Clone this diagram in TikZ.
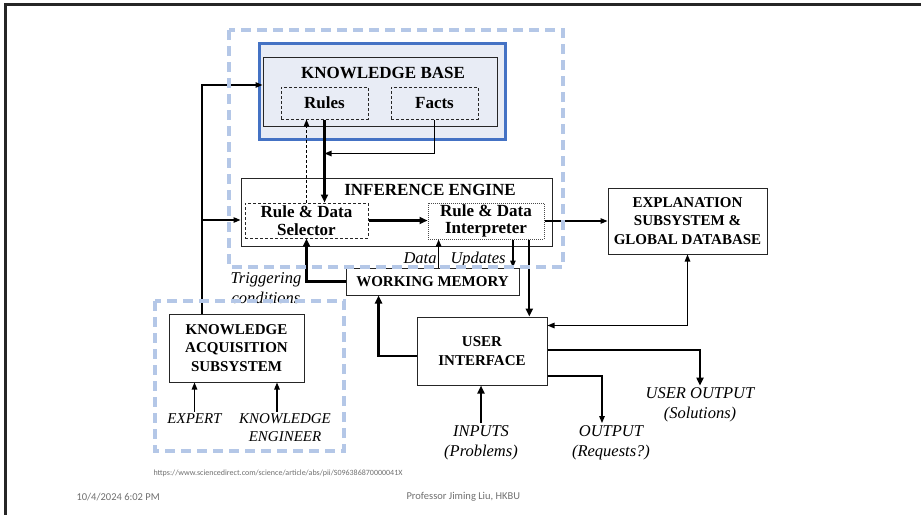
\documentclass[tikz,border=0pt]{standalone}
\usepackage{fontspec}
\setmainfont{Liberation Serif}
\newfontfamily\footfont{Carlito}
\usetikzlibrary{calc,arrows.meta}
\definecolor{dashblue}{HTML}{B4C7E7}
\definecolor{kbblue}{HTML}{4472C4}
\definecolor{kbfill}{HTML}{E8ECF5}
\definecolor{footgray}{HTML}{6F6F6F}

\begin{document}
\begin{tikzpicture}[x=1pt,y=-1pt,
  box/.style={draw=black!85,line width=1pt,inner sep=0pt},
  dbox/.style={box,dash pattern=on 3pt off 2pt},
  pbox/.style={box,draw=black!70,dash pattern=on 1pt off 1pt},
  big/.style={font=\fontsize{17}{17.5}\selectfont\bfseries,align=center},
  small/.style={font=\fontsize{15}{18.5}\selectfont\bfseries,align=center},
  lab/.style={font=\fontsize{16.5}{20}\selectfont\itshape,align=center,inner sep=2pt},
  slab/.style={lab,font=\fontsize{15}{18}\selectfont\itshape},
  arr/.style={line width=1.2pt,-{Triangle[length=7pt,width=5.5pt]}},
  darr/.style={line width=1.2pt,{Triangle[length=7pt,width=5.5pt]}-{Triangle[length=7pt,width=5.5pt]}},
  tarr/.style={line width=2.2pt,-{Triangle[length=8pt,width=7pt]}},
  region/.style={draw=dashblue,line width=3.5pt,dash pattern=on 10pt off 6pt}]
\useasboundingbox (0,0) rectangle (921,515);
% slide frame
\fill[black!85] (4.3,3) rectangle (921,5.8);
\fill[black!85] (4.3,3) rectangle (6.8,515);

% knowledge base
\node[draw=kbblue,fill=kbfill,line width=3.5pt,minimum width=246pt,minimum height=96pt] (kbhi) at (382.5,91.5) {};
\node[box,minimum width=234pt,minimum height=69pt] (kb) at (380,91.5) {};
\node[big] (kbtitle) at (383,73) {KNOWLEDGE BASE};
\node[dbox,big,minimum width=87pt,minimum height=32pt] (rules) at (324.5,103) {Rules};
\node[dbox,big,minimum width=87pt,minimum height=32pt] (facts) at (434.5,103) {Facts};

% inference engine
\node[box,minimum width=311pt,minimum height=68pt] (ie) at (396.5,212) {};
\node[big] (ietitle) at (430,190) {INFERENCE ENGINE};
\node[dbox,big,minimum width=123pt,minimum height=35pt] (sel) at (306.5,220.5) {Rule \& Data\\Selector};
\node[pbox,big,minimum width=116pt,minimum height=36pt] (int) at (486,221) {Rule \& Data\\Interpreter};

\node[box,small,minimum width=159pt,minimum height=66pt] (exp) at (687.5,221) {EXPLANATION\\SUBSYSTEM \&\\GLOBAL DATABASE};
\node[box,small,minimum width=173pt,minimum height=27pt] (wm) at (432.5,281.5) {WORKING MEMORY};
\node[box,small,minimum width=130pt,minimum height=68pt] (ui) at (482,351) {USER\\INTERFACE};
\node[box,small,minimum width=135pt,minimum height=68pt] (kas) at (236.5,348) {KNOWLEDGE\\ACQUISITION\\SUBSYSTEM};

\node[lab] (trig) at (266,288) {Triggering\\conditions};
\node[lab,anchor=base] (data) at (420,263) {Data};
\node[lab,anchor=base] (upd) at (478,263) {Updates};
\node[lab] (uout) at (700,405) {USER OUTPUT\\(Solutions)};
\node[lab] (outp) at (611,442.5) {OUTPUT\\(Requests?)};
\node[lab] (inp) at (481,442.5) {INPUTS\\(Problems)};
\node[slab] (expert) at (194.5,419) {EXPERT};
\node[slab] (keng) at (285,428) {KNOWLEDGE\\ENGINEER};

\coordinate (feed) at (202,220);
\draw[arr] (kas.north -| feed) |- ([yshift=6.5pt]kb.west);
\draw[arr] (feed) -- (feed -| ie.west);

\draw[tarr] (rules.south) -- (rules.south |- sel.north);
\draw[arr] (facts.south) -- ++(0,34) coordinate (fk) -- (fk -| rules.south);
\draw[arr,dash pattern=on 3pt off 2pt] (sel.north) -- (sel.north |- rules.south);
\draw[tarr] (sel.east) -- (sel.east -| int.west);
\draw[arr] (int.east) -- (exp.west);

\path ($(int.south west)!0.095!(int.south east)$) coordinate (dtop)
      ($(int.south west)!0.73!(int.south east)$) coordinate (utop)
      ($(int.south west)!0.87!(int.south east)$) coordinate (uitop);
\draw[arr] (wm.north -| dtop) -- (dtop);
\draw[arr] (utop) -- (utop |- wm.north);
\draw[tarr] (uitop) -- (uitop |- ui.north);
\draw[tarr] (wm.west) -| (sel.south);
\draw[tarr] ([yshift=-5pt]ui.west) -| ($(wm.south west)!0.19!(wm.south east)$);

\draw[tarr] ([yshift=1pt]ui.east) -| (uout.north);
\draw[arr] ([yshift=-25pt]ui.east) -| ([xshift=-9pt]outp.north);
\draw[tarr] (inp.north) -- (inp.north |- ui.south);
\draw[darr] (exp.south) |- ([yshift=-9pt]ui.north east);

\draw[arr] (expert.north) -- (expert.north |- kas.south);
\draw[arr] ([xshift=-8pt]keng.north) -- ([xshift=-8pt]keng.north |- kas.south);

% highlighted regions
\draw[region] (229,30) rectangle (563,267);
\draw[region] (155,301) rectangle (344,451);

\node[font=\footfont\fontsize{8}{9}\selectfont,text=footgray,anchor=west] (src) at (150,473) {https://www.sciencedirect.com/science/article/abs/pii/S096386870000041X};
\node[font=\footfont\fontsize{10.5}{12}\selectfont,text=footgray,anchor=west] (date) at (73,497) {10/4/2024 6:02 PM};
\node[font=\footfont\fontsize{10.5}{12}\selectfont,text=footgray,anchor=west] (prof) at (403,497) {Professor Jiming Liu, HKBU};
\end{tikzpicture}
\end{document}
